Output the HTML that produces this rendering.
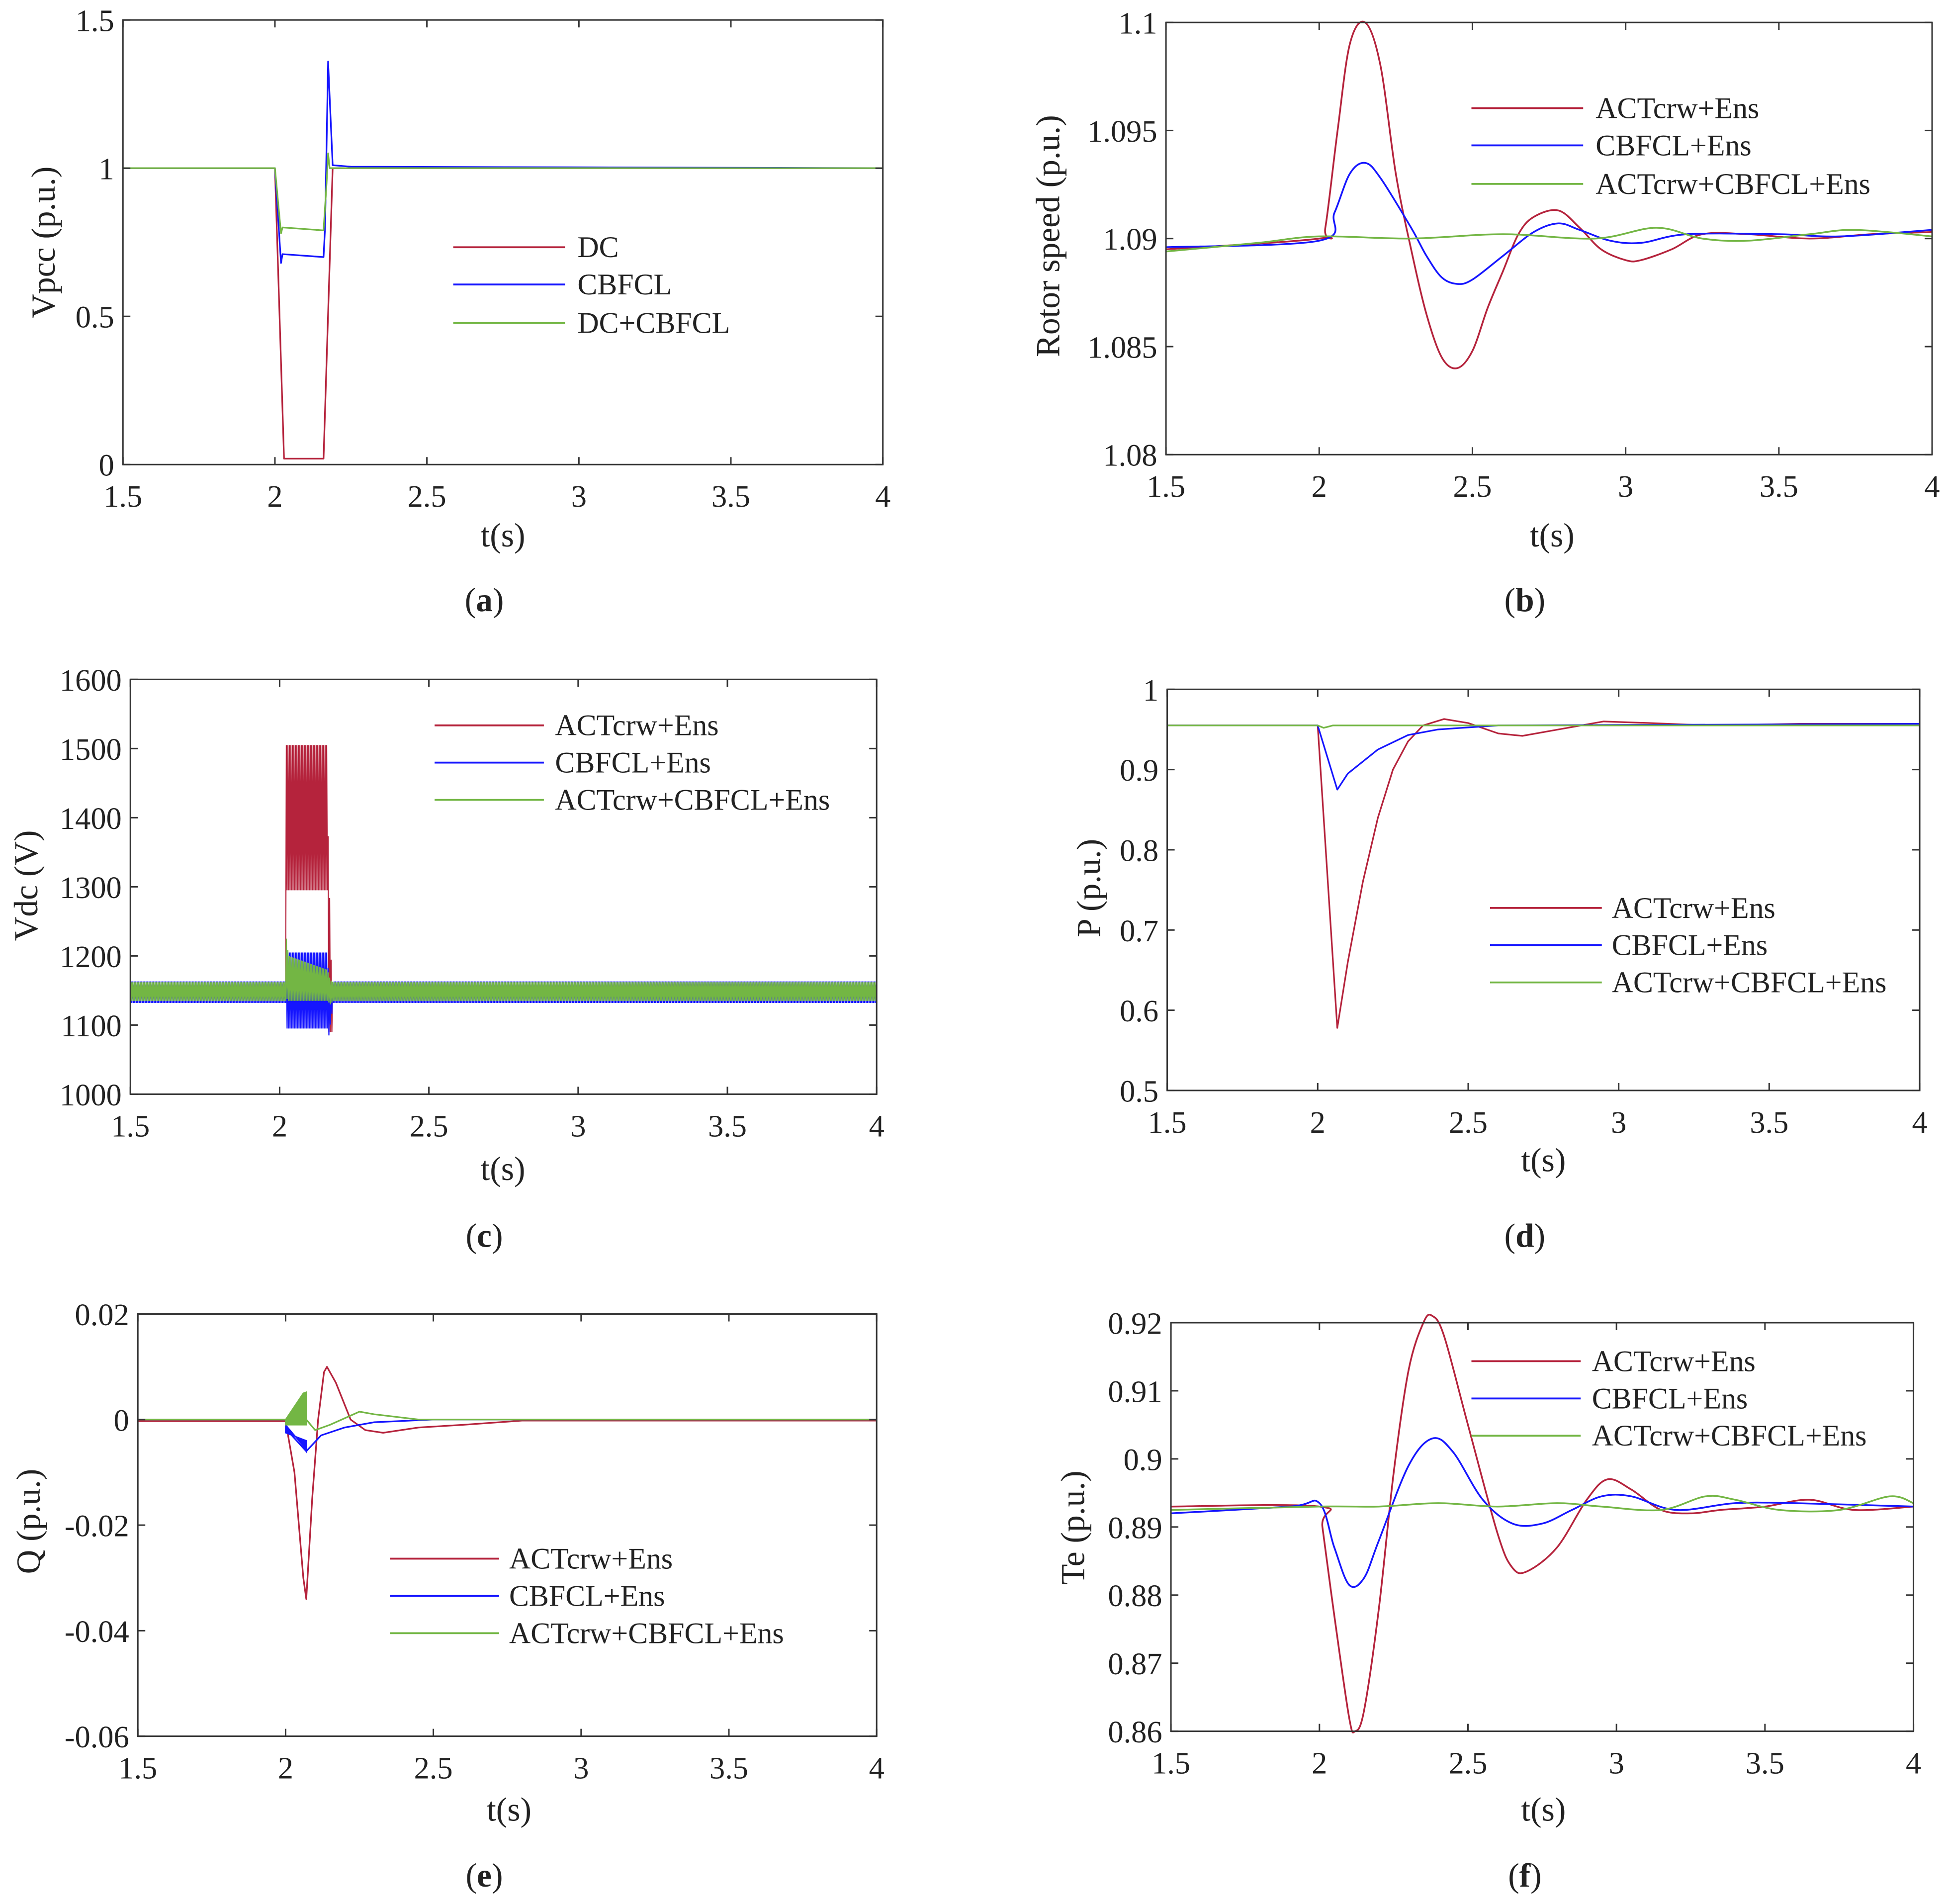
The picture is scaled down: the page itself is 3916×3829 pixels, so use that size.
<!DOCTYPE html>
<html><head><meta charset="utf-8"><style>
html,body{margin:0;padding:0;background:#fff}
svg{display:block}
text{font-family:"Liberation Serif",serif;fill:#222}
</style></head><body>
<svg id="fig" width="3916" height="3829" viewBox="0 0 1568 1533" xmlns="http://www.w3.org/2000/svg"></svg>
<script>
// ---------- data ----------
const RED="#b5233c", BLUE="#1515ff", GREEN="#73b644";
const xTicks=[1.5,2,2.5,3,3.5,4];
const xTickLabels=["1.5","2","2.5","3","3.5","4"];
// (a)
const aDC=[[1.5,1],[2.0,1],[2.03,0.02],[2.16,0.02],[2.19,1],[4,1]];
const aCB=[[1.5,1],[2.0,1],[2.02,0.68],[2.025,0.71],[2.16,0.70],[2.165,0.8],[2.175,1.36],[2.19,1.01],[2.25,1.005],[4,1]];
const aDCCB=[[1.5,1],[2.0,1],[2.02,0.78],[2.025,0.8],[2.16,0.79],[2.17,0.95],[2.175,1.05],[2.18,1.0],[4,1]];
const aYTicks=[0,0.5,1,1.5]; const aYLabels=["0","0.5","1","1.5"];
// (b)
const bRed=[[1.5,1.0895],[2.0,1.0900],[2.02,1.0905],[2.06,1.095],[2.1,1.099],[2.15,1.1],[2.2,1.098],[2.25,1.093],[2.3,1.0895],[2.35,1.0865],[2.4,1.0845],[2.45,1.084],[2.5,1.0848],[2.55,1.0868],[2.6,1.0885],[2.65,1.0902],[2.7,1.091],[2.78,1.0913],[2.85,1.0905],[2.92,1.0895],[3.0,1.089],[3.05,1.089],[3.15,1.0895],[3.25,1.0902],[3.4,1.0902],[3.6,1.09],[3.8,1.0902],[4,1.0903]];
const bBlue=[[1.5,1.0896],[2.0,1.0899],[2.05,1.0912],[2.1,1.093],[2.15,1.0935],[2.2,1.0928],[2.3,1.0905],[2.35,1.0892],[2.4,1.0882],[2.45,1.0879],[2.5,1.0881],[2.6,1.0892],[2.7,1.0903],[2.78,1.0907],[2.85,1.0904],[2.95,1.0899],[3.05,1.0898],[3.2,1.0902],[3.5,1.0902],[3.7,1.0901],[4,1.0904]];
const bGreen=[[1.5,1.0894],[1.8,1.0898],[2.0,1.0901],[2.3,1.09],[2.6,1.0902],[2.9,1.09],[3.1,1.0905],[3.25,1.09],[3.4,1.0899],[3.6,1.0902],[3.75,1.0904],[4,1.0901]];
const bYTicks=[1.08,1.085,1.09,1.095,1.1]; const bYLabels=["1.08","1.085","1.09","1.095","1.1"];
// (c) envelopes: [t, low, high]
const cRed=[[1.5,1138,1160],[2.02,1138,1160],[2.021,1295,1505],[2.16,1295,1505],[2.161,1090,1400],[2.175,1090,1150],[2.18,1138,1160],[4,1138,1160]];
const cBlue=[[1.5,1132,1163],[2.02,1132,1163],[2.021,1095,1205],[2.16,1095,1205],[2.165,1085,1160],[2.18,1132,1163],[4,1132,1163]];
const cGreen=[[1.5,1135,1162],[2.02,1135,1162],[2.021,1140,1230],[2.03,1135,1200],[2.16,1135,1180],[2.17,1130,1165],[2.18,1135,1162],[4,1135,1162]];
const cYTicks=[1000,1100,1200,1300,1400,1500,1600]; const cYLabels=["1000","1100","1200","1300","1400","1500","1600"];
// (d)
const dRed=[[1.5,0.955],[2.0,0.955],[2.065,0.578],[2.1,0.66],[2.15,0.76],[2.2,0.84],[2.25,0.9],[2.3,0.935],[2.35,0.955],[2.42,0.963],[2.5,0.958],[2.6,0.945],[2.68,0.942],[2.8,0.95],[2.95,0.96],[3.1,0.958],[3.3,0.955],[3.6,0.957],[4,0.957]];
const dBlue=[[1.5,0.955],[2.0,0.955],[2.065,0.875],[2.1,0.895],[2.2,0.925],[2.3,0.943],[2.4,0.95],[2.6,0.955],[4,0.957]];
const dGreen=[[1.5,0.955],[2.0,0.955],[2.02,0.952],[2.05,0.955],[4,0.955]];
const dYTicks=[0.5,0.6,0.7,0.8,0.9,1]; const dYLabels=["0.5","0.6","0.7","0.8","0.9","1"];
// (e)
const eRed=[[1.5,-0.0003],[2.0,-0.0003],[2.03,-0.01],[2.06,-0.03],[2.07,-0.034],[2.09,-0.015],[2.11,0],[2.13,0.009],[2.14,0.01],[2.17,0.007],[2.22,0],[2.27,-0.002],[2.33,-0.0025],[2.45,-0.0015],[2.6,-0.001],[2.8,-0.0002],[4,-0.0002]];
const eBlue=[[1.5,0],[2.0,0],[2.005,-0.002],[2.07,-0.006],[2.12,-0.003],[2.2,-0.0015],[2.3,-0.0005],[2.5,0],[4,0]];
const eGreen=[[1.5,0],[2.0,0],[2.07,0],[2.1,-0.002],[2.15,-0.001],[2.25,0.0015],[2.3,0.001],[2.45,0],[4,0]];
const eBlueBurst=[[2.0,-0.001],[2.06,-0.005],[2.07,-0.006],[2.07,-0.004],[2.0,-0.0025]];
const eGreenBurst=[[2.0,0],[2.06,0.005],[2.07,0.0052],[2.07,-0.001],[2.0,-0.001]];
const eYTicks=[-0.06,-0.04,-0.02,0,0.02]; const eYLabels=["-0.06","-0.04","-0.02","0","0.02"];
// (f)
const fRed=[[1.5,0.893],[2.0,0.893],[2.01,0.89],[2.05,0.877],[2.1,0.862],[2.12,0.86],[2.15,0.863],[2.2,0.878],[2.25,0.898],[2.3,0.913],[2.35,0.92],[2.38,0.921],[2.42,0.918],[2.5,0.905],[2.6,0.889],[2.65,0.884],[2.7,0.8835],[2.8,0.887],[2.9,0.894],[2.97,0.897],[3.05,0.8955],[3.15,0.8925],[3.25,0.892],[3.35,0.8925],[3.5,0.893],[3.65,0.894],[3.8,0.8925],[4,0.893]];
const fBlue=[[1.5,0.892],[1.9,0.893],[2.0,0.8935],[2.05,0.887],[2.1,0.8815],[2.15,0.8825],[2.2,0.888],[2.3,0.899],[2.38,0.903],[2.45,0.901],[2.55,0.894],[2.65,0.8905],[2.75,0.8905],[2.85,0.8925],[2.95,0.8945],[3.05,0.8945],[3.2,0.8925],[3.4,0.8935],[3.6,0.8935],[4,0.893]];
const fGreen=[[1.5,0.8925],[2.0,0.893],[2.2,0.893],[2.4,0.8935],[2.6,0.893],[2.8,0.8935],[2.95,0.893],[3.15,0.8925],[3.3,0.8945],[3.4,0.894],[3.55,0.8925],[3.75,0.8925],[3.92,0.8945],[4,0.8935]];
const fYTicks=[0.86,0.87,0.88,0.89,0.9,0.91,0.92]; const fYLabels=["0.86","0.87","0.88","0.89","0.9","0.91","0.92"];
const legA=["DC","CBFCL","DC+CBFCL"];
const legB=["ACTcrw+Ens","CBFCL+Ens","ACTcrw+CBFCL+Ens"];

// ---------- drawing ----------
const svg=document.getElementById('fig');
const NS="http://www.w3.org/2000/svg";
function mk(tag,attrs,parent){const e=document.createElementNS(NS,tag);for(const k in attrs)e.setAttribute(k,attrs[k]);(parent||svg).appendChild(e);return e;}
function txt(s,attrs,parent){const e=mk('text',attrs,parent);e.textContent=s;return e;}
function smoothPath(P){
  let d='M'+P[0][0].toFixed(2)+','+P[0][1].toFixed(2);
  for(let i=0;i<P.length-1;i++){
    const p0=P[Math.max(0,i-1)],p1=P[i],p2=P[i+1],p3=P[Math.min(P.length-1,i+2)];
    const c1=[p1[0]+(p2[0]-p0[0])/6,p1[1]+(p2[1]-p0[1])/6];
    const c2=[p2[0]-(p3[0]-p1[0])/6,p2[1]-(p3[1]-p1[1])/6];
    d+=' C'+c1[0].toFixed(2)+','+c1[1].toFixed(2)+' '+c2[0].toFixed(2)+','+c2[1].toFixed(2)+' '+p2[0].toFixed(2)+','+p2[1].toFixed(2);
  }
  return d;
}

function panel(p){
  const g=mk('g',{});
  
  
  const X=t=>p.x0+(t-1.5)/(4-1.5)*(p.x1-p.x0);
  const Y=v=>p.y1-(v-p.ymin)/(p.ymax-p.ymin)*(p.y1-p.y0);
  const plot=mk('g',{},g);
  
  
  const cols=[RED,BLUE,GREEN];
  p.series.forEach((s,i)=>{
    let l;
    if(p.smooth){
      l=mk('path',{d:smoothPath(s.map(q=>[X(q[0]),Y(q[1])])),fill:'none',stroke:cols[i],'stroke-width':1.4},plot);
    } else {
      const d=s.map(q=>X(q[0]).toFixed(2)+','+Y(q[1]).toFixed(2)).join(' ');
      l=mk('polyline',{points:d,fill:'none',stroke:cols[i],'stroke-width':1.3,'stroke-linejoin':'round'},plot);
    }
    
    
  });
  if(p.env){
    p.env.forEach((env,i)=>{
      const pts=[];let k=0;
      for(let t=1.5;t<=4.0001;t+=0.0025){
        let j=0;while(j<env.length-2&&env[j+1][0]<t)j++;
        const a=env[j],b=env[j+1];const f=Math.max(0,Math.min(1,(t-a[0])/(b[0]-a[0])));
        const lo=a[1]+(b[1]-a[1])*f,hi=a[2]+(b[2]-a[2])*f;
        pts.push(X(t).toFixed(2)+','+Y(k%2?hi:lo).toFixed(2));k++;
      }
      const l=mk('polyline',{points:pts.join(' '),fill:'none',stroke:cols[i],'stroke-width':0.9},plot);
      
      
    });
  }
  if(p.bursts){
    p.bursts.forEach(b=>{
      const poly=mk('polygon',{points:b.pts.map(q=>X(q[0]).toFixed(2)+','+Y(q[1]).toFixed(2)).join(' '),fill:b.c,stroke:b.c,'stroke-width':1},plot);
      
      
    });
  }
  const fr=mk('rect',{x:p.x0,y:p.y0,width:p.x1-p.x0,height:p.y1-p.y0,fill:'none',stroke:'#333','stroke-width':1.2},g);
  
  
  const xa=mk('g',{},g);
  
  
  xTicks.forEach((t,i)=>{
    const x=X(t);
    mk('line',{x1:x,x2:x,y1:p.y1,y2:p.y1-6,stroke:'#333','stroke-width':1.2},xa);
    mk('line',{x1:x,x2:x,y1:p.y0,y2:p.y0+6,stroke:'#333','stroke-width':1.2},xa);
    const tl=txt(xTickLabels[i],{x:x,y:p.y1+34,'font-size':25,'text-anchor':'middle'},xa);
    
    
  });
  const ya=mk('g',{},g);
  
  
  p.yt.forEach((v,i)=>{
    const y=Y(v);
    mk('line',{x1:p.x0,x2:p.x0+6,y1:y,y2:y,stroke:'#333','stroke-width':1.2},ya);
    mk('line',{x1:p.x1,x2:p.x1-6,y1:y,y2:y,stroke:'#333','stroke-width':1.2},ya);
    const tl=txt(p.yl[i],{x:p.x0-7,y:y+9,'font-size':25,'text-anchor':'end'},ya);
    
    
  });
  const xt=txt('t(s)',{x:p.xlx,y:p.xly,'font-size':27,'text-anchor':'middle'},g);
  
  
  const yt=txt(p.ylab,{x:0,y:0,'font-size':27,'text-anchor':'middle',transform:`translate(${p.ylx},${p.yly}) rotate(-90)`},g);
  
  
  const cap=txt('',{x:p.cx,y:p.cy,'font-size':27,'text-anchor':'middle'},g);
  cap.innerHTML='(<tspan font-weight="bold">'+p.cap+'</tspan>)';
  
  
  const lg=mk('g',{},g);
  
  
  p.leg.forEach((s,i)=>{
    const y=p.lrows[i];
    const e=mk('g',{},lg);
    
    
    mk('line',{x1:p.lx0,x2:p.lx1,y1:y,y2:y,stroke:cols[i],'stroke-width':1.5},e);
    txt(s,{x:p.lt,y:y+8,'font-size':24},e);
  });
}

panel({name:'panel-a-vpcc',x0:99,x1:711,y0:16,y1:374,ymin:0,ymax:1.5,yt:aYTicks,yl:aYLabels,
  series:[aDC,aCB,aDCCB],ylab:'Vpcc (p.u.)',ylx:44,yly:195,xlx:405,xly:440,cap:'a',cx:390,cy:492,
  leg:legA,lx0:365,lx1:455,lt:465,lrows:[199,229,260]});
panel({name:'panel-b-rotor-speed',x0:939,x1:1556,y0:18,y1:366,ymin:1.08,ymax:1.1,yt:bYTicks,yl:bYLabels,smooth:true,
  series:[bRed,bBlue,bGreen],ylab:'Rotor speed (p.u.)',ylx:853,yly:190,xlx:1250,xly:440,cap:'b',cx:1228,cy:492,
  leg:legB,lx0:1185,lx1:1275,lt:1285,lrows:[87,117,148]});
panel({name:'panel-c-vdc',x0:105,x1:706,y0:547,y1:881,ymin:1000,ymax:1600,yt:cYTicks,yl:cYLabels,
  series:[],env:[cRed,cBlue,cGreen],ylab:'Vdc (V)',ylx:30,yly:713,xlx:405,xly:950,cap:'c',cx:390,cy:1004,
  leg:legB,lx0:350,lx1:438,lt:447,lrows:[584,614,644]});
panel({name:'panel-d-p',x0:940,x1:1546,y0:555,y1:878,ymin:0.5,ymax:1,yt:dYTicks,yl:dYLabels,
  series:[dRed,dBlue,dGreen],ylab:'P (p.u.)',ylx:886,yly:715,xlx:1243,xly:943,cap:'d',cx:1228,cy:1004,
  leg:legB,lx0:1200,lx1:1290,lt:1298,lrows:[731,761,791]});
panel({name:'panel-e-q',x0:111,x1:706,y0:1058,y1:1398,ymin:-0.06,ymax:0.02,yt:eYTicks,yl:eYLabels,
  series:[eRed,eBlue,eGreen],bursts:[{pts:eBlueBurst,c:BLUE},{pts:eGreenBurst,c:GREEN}],ylab:'Q (p.u.)',ylx:32,yly:1225,xlx:410,xly:1466,cap:'e',cx:390,cy:1519,
  leg:legB,lx0:314,lx1:402,lt:410,lrows:[1255,1285,1315]});
panel({name:'panel-f-te',x0:943,x1:1541,y0:1065,y1:1394,ymin:0.86,ymax:0.92,yt:fYTicks,yl:fYLabels,smooth:true,
  series:[fRed,fBlue,fGreen],ylab:'Te (p.u.)',ylx:873,yly:1230,xlx:1243,xly:1466,cap:'f',cx:1228,cy:1519,
  leg:legB,lx0:1185,lx1:1273,lt:1282,lrows:[1096,1126,1156]});
</script>
</body></html>
